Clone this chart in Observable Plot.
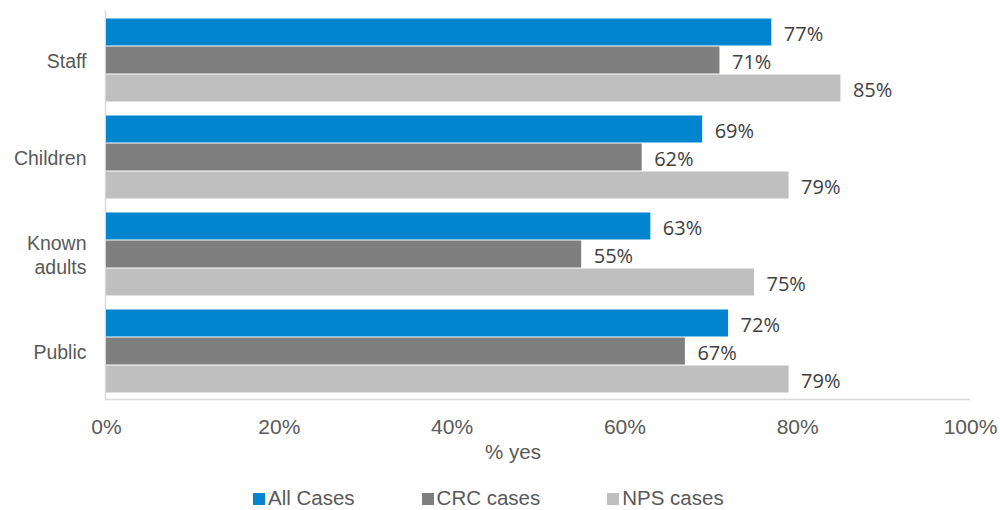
<!DOCTYPE html>
<html>
<head>
<meta charset="utf-8">
<script src="https://cdn.jsdelivr.net/npm/d3@7"></script>
<script src="https://cdn.jsdelivr.net/npm/@observablehq/plot@0.6"></script>
<style>
  html, body { margin: 0; padding: 0; background: #fff; }
  #wrap { position: relative; width: 1000px; height: 510px; overflow: hidden; }
  #chart svg { display: block; }
  #xlabel {
    position: absolute; left: 413px; width: 200px; top: 440px; text-align: center;
    font-family: "Liberation Sans", Arial, sans-serif;
    font-size: 20.5px; color: #595959; line-height: 24px;
  }
  #legend {
    position: absolute; left: 253px; top: 485px; display: flex; gap: 67px;
    font-family: "Liberation Sans", Arial, sans-serif; font-size: 20.5px; color: #595959;
    line-height: 26px;
  }
  #legend .item { display: flex; align-items: center; }
  #legend .sw { width: 12px; height: 12px; margin-right: 3px; margin-top: 1px; }
</style>
</head>
<body>
<div id="wrap">
  <div id="chart"></div>
  <div id="xlabel">% yes</div>
  <div id="legend"></div>
</div>
<script>
const categories = ["Staff", "Children", "Known adults", "Public"];
const seriesNames = ["All Cases", "CRC cases", "NPS cases"];
const allCases = [77, 69, 63, 72];
const crcCases = [71, 62, 55, 67];
const npsCases = [85, 79, 75, 79];
const seriesColors = ["#0284CE", "#7F7F7F", "#BFBFBF"];
const xTicks = [0, 20, 40, 60, 80, 100];

const seriesValues = [allCases, crcCases, npsCases];
const data = [];
categories.forEach((c, i) => {
  seriesNames.forEach((s, j) => {
    data.push({category: c, series: s, value: seriesValues[j][i]});
  });
});

const plot = Plot.plot({
  width: 1000,
  height: 465,
  marginLeft: 106,
  marginRight: 30,
  marginTop: 16,
  marginBottom: 71,
  style: {background: "#fff", overflow: "visible"},
  x: {domain: [0, 100], label: null},
  y: {domain: seriesNames, axis: null, paddingInner: 0, paddingOuter: 0},
  fy: {domain: categories, paddingInner: 0.12, paddingOuter: 0, label: null, axis: null},
  color: {domain: seriesNames, range: seriesColors},
  marks: [
    Plot.barX(data, {
      x: "value", y: "series", fy: "category", fill: "series",
      insetTop: 0.5, insetBottom: 0.5
    }),
    Plot.text(data, {
      x: "value", y: "series", fy: "category",
      text: d => d.value + "%",
      textAnchor: "start", dx: 12, dy: 2,
      fill: "#404040", fontSize: 20,
      fontFamily: "'Open Sans', sans-serif"
    }),
    Plot.axisX({
      ticks: xTicks, tickFormat: d => d + "%", tickSize: 0, tickPadding: 26,
      fontSize: 21, fill: "#595959", label: null,
      fontFamily: "'Liberation Sans', Arial, sans-serif"
    }),
    Plot.axisFy({
      anchor: "left",
      tickSize: 0, tickPadding: 20, fontSize: 19.5, fill: "#595959",
      fontFamily: "'Liberation Sans', Arial, sans-serif",
      lineHeight: 1.28, label: null,
      tickFormat: d => d === "Known adults" ? "Known\nadults" : d
    })
  ]
});

document.getElementById("chart").appendChild(plot);

// axis lines drawn with the x scale
const xs = plot.scale("x");
const x0 = xs.apply(0), x1 = xs.apply(100);
const svg = d3.select(plot);
svg.insert("line", "g")
  .attr("x1", x0 - 0.5).attr("x2", x0 - 0.5).attr("y1", 10).attr("y2", 400)
  .attr("stroke", "#D9D9D9").attr("stroke-width", 1.5);
svg.insert("line", "g")
  .attr("x1", x0 - 0.5).attr("x2", x1).attr("y1", 399.5).attr("y2", 399.5)
  .attr("stroke", "#D9D9D9").attr("stroke-width", 1.5);

// legend
const legend = d3.select("#legend");
seriesNames.forEach((s, i) => {
  const it = legend.append("div").attr("class", "item");
  it.append("div").attr("class", "sw").style("background", seriesColors[i]);
  it.append("span").text(s);
});
</script>
</body>
</html>
